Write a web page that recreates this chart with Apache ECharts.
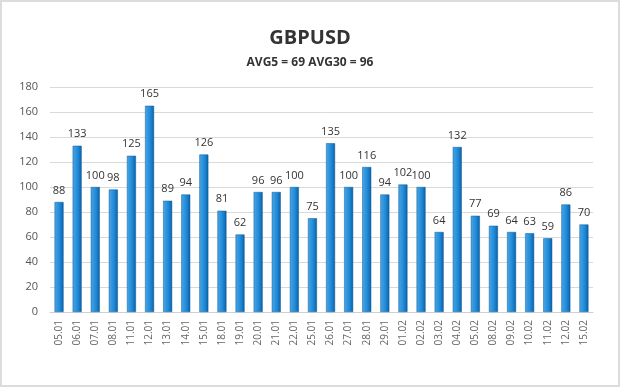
<!DOCTYPE html>
<html><head><meta charset="utf-8">
<script src="https://cdn.jsdelivr.net/npm/echarts@6/dist/echarts.min.js"></script>
<style>html,body{margin:0;padding:0;background:#fff;}#c{width:616px;height:383px;border:2px solid #dcdcdc;}</style>
</head><body><div id="c"></div>
<script>
var categories = ['05.01','06.01','07.01','08.01','11.01','12.01','13.01','14.01','15.01','18.01','19.01','20.01','21.01','22.01','25.01','26.01','27.01','28.01','29.01','01.02','02.02','03.02','04.02','05.02','08.02','09.02','10.02','11.02','12.02','15.02'];
var values = [88,133,100,98,125,165,89,94,126,81,62,96,96,100,75,135,100,116,94,102,100,64,132,77,69,64,63,59,86,70];
var yTicks = [0,20,40,60,80,100,120,140,160,180];
var chart = echarts.init(document.getElementById('c'));
chart.setOption({
  animation:false,
  backgroundColor:'#fff',
  title:[
    {text:'GBPUSD',left:'center',top:21,textStyle:{fontFamily:'Open Sans',fontSize:20,fontWeight:'bold',color:'#333'}},
    {text:'AVG5 = 69 AVG30 = 96',left:'center',top:50,textStyle:{fontFamily:'Open Sans',fontSize:12,fontWeight:'bold',color:'#333'}}
  ],
  grid:{left:48,right:25,top:85,bottom:73},
  xAxis:{type:'category',data:categories,
    axisLine:{lineStyle:{color:'#d0d0d0'}},axisTick:{show:false},
    axisLabel:{rotate:90,interval:0,color:'#666',fontFamily:'Open Sans',fontSize:10,margin:8}},
  yAxis:{type:'value',min:yTicks[0],max:yTicks[yTicks.length-1],interval:20,
    axisLine:{show:false},axisTick:{show:false},
    splitLine:{lineStyle:{color:'#d9d9d9',width:1}},
    axisLabel:{color:'#555',fontFamily:'Open Sans',fontSize:11,margin:12}},
  series:[{type:'bar',data:values,barWidth:9,
    itemStyle:{color:new echarts.graphic.LinearGradient(0,0,1,0,[{offset:0,color:'#4aa6e6'},{offset:0.6,color:'#1e88d6'},{offset:1,color:'#0b5fa3'}]),borderColor:'#0d5c9c',borderWidth:0.5},
    label:{show:true,position:'top',distance:6,color:'#333',fontFamily:'Open Sans',fontSize:11}}]
});
</script></body></html>
